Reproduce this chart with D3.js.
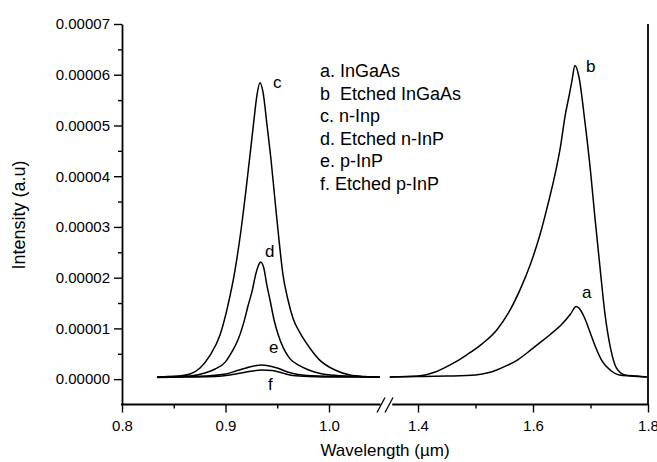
<!DOCTYPE html>
<html>
<head>
<meta charset="utf-8">
<script src="https://cdn.jsdelivr.net/npm/d3@7"></script>
<style>
  html, body { margin: 0; padding: 0; background: #fff; }
  svg { display: block; font-family: "Liberation Sans", Arial, sans-serif; }
</style>
</head>
<body>
<svg id="chart" width="657" height="462"></svg>
<script>
// ---------- data (intensity in units of 1e-5 a.u.) ----------
const UNIT = 1e-5;

// left group (InP region)
const cWavelength = [0.834,0.845,0.855,0.8657,0.8754,0.8850,0.8947,0.9024,0.9092,0.9150,0.9198,0.9237,0.9275,0.9304,0.9333,0.9362,0.9401,0.9440,0.9478,0.9517,0.9556,0.9604,0.9652,0.9720,0.9816,0.9913,1.0058,1.0203,1.035,1.049];
const cIntensity  = [0.04,0.05,0.06,0.10,0.22,0.47,0.87,1.46,2.15,2.94,3.73,4.42,5.11,5.60,5.84,5.66,5.01,4.32,3.53,2.74,2.05,1.56,1.20,0.91,0.61,0.37,0.18,0.08,0.05,0.04];

const dWavelength = [0.834,0.850,0.866,0.880,0.890,0.900,0.906,0.912,0.917,0.922,0.926,0.929,0.932,0.934,0.937,0.940,0.943,0.947,0.951,0.956,0.962,0.972,0.986,1.001,1.049];
const dIntensity  = [0.04,0.05,0.06,0.12,0.20,0.34,0.53,0.77,1.07,1.46,1.76,2.05,2.25,2.31,2.19,1.85,1.56,1.16,0.87,0.61,0.41,0.26,0.14,0.08,0.04];

const eWavelength = [0.834,0.862,0.880,0.900,0.910,0.920,0.930,0.935,0.940,0.950,0.960,0.970,0.990,1.020,1.049];
const eIntensity  = [0.04,0.05,0.06,0.10,0.16,0.22,0.27,0.28,0.27,0.22,0.14,0.09,0.06,0.05,0.04];

const fWavelength = [0.834,0.862,0.890,0.910,0.920,0.935,0.945,0.955,0.965,0.980,1.010,1.049];
const fIntensity  = [0.03,0.04,0.05,0.10,0.14,0.18,0.17,0.12,0.07,0.05,0.04,0.04];

// right group (InGaAs region)
const aWavelength = [1.351,1.400,1.450,1.500,1.520,1.537,1.555,1.572,1.590,1.610,1.630,1.650,1.665,1.675,1.680,1.690,1.700,1.710,1.720,1.735,1.750,1.770,1.798];
const aIntensity  = [0.04,0.05,0.06,0.08,0.12,0.18,0.27,0.37,0.52,0.70,0.88,1.08,1.28,1.43,1.40,1.20,0.90,0.60,0.36,0.17,0.08,0.06,0.04];

const bWavelength = [1.351,1.400,1.430,1.456,1.485,1.513,1.537,1.557,1.577,1.595,1.612,1.625,1.638,1.648,1.656,1.663,1.668,1.673,1.680,1.690,1.700,1.708,1.717,1.725,1.735,1.745,1.760,1.780,1.798];
const bIntensity  = [0.04,0.06,0.14,0.28,0.48,0.71,0.97,1.30,1.75,2.25,2.84,3.40,4.02,4.60,5.20,5.60,5.90,6.18,5.95,5.10,4.10,3.15,2.15,1.30,0.60,0.22,0.08,0.06,0.04];

const legendLines = ["a. InGaAs", "b\u00a0 Etched InGaAs", "c. n-Inp", "d. Etched n-InP", "e. p-InP", "f. Etched p-InP"];

const yMajorTicks = [0, 1e-5, 2e-5, 3e-5, 4e-5, 5e-5, 6e-5, 7e-5];
const yMinorTicks = [0.5e-5, 1.5e-5, 2.5e-5, 3.5e-5, 4.5e-5, 5.5e-5, 6.5e-5];
const xLeftMajor = [0.8, 0.9, 1.0];
const xLeftMinor = [0.85, 0.95];
const xRightMajor = [1.4, 1.6, 1.8];
const xRightMinor = [1.5, 1.7];

// ---------- drawing ----------
(function () {
const svg = d3.select("#chart");
const pTop = 24, pBottom = 404.5, pLeft = 122, pRight = 648;
const breakL = 380.5, breakR = 389.25;

const y = d3.scaleLinear().domain([-0.5e-5, 7e-5]).range([pBottom, pTop]);
const xL = d3.scaleLinear().domain([0.8, 1.05]).range([pLeft, pLeft + 0.25 * 1035]);
const xR = d3.scaleLinear().domain([1.35, 1.8]).range([breakR, pRight]);

const fmtY = d3.format(".5f");

// Y axis
const yAxis = d3.axisLeft(y).tickValues(yMajorTicks).tickFormat(fmtY).tickSize(8).tickSizeOuter(0);
const gy = svg.append("g").attr("transform", `translate(${pLeft},0)`).call(yAxis);
gy.select(".domain").attr("stroke-width", 1.8);
gy.selectAll(".tick line").attr("stroke-width", 1.4);
gy.selectAll(".tick text").attr("font-size", 15).attr("x", -12).attr("fill", "#000");
const yMinor = d3.axisLeft(y).tickValues(yMinorTicks).tickFormat("").tickSize(4).tickSizeOuter(0);
const gym = svg.append("g").attr("transform", `translate(${pLeft},0)`).call(yMinor);
gym.select(".domain").remove();
gym.selectAll(".tick line").attr("stroke-width", 1.4);

// Right frame line
svg.append("line").attr("x1", pRight).attr("x2", pRight).attr("y1", pTop).attr("y2", pBottom)
  .attr("stroke", "#000").attr("stroke-width", 1.8);

// X axes (two segments)
function drawX(scale, major, minor, x0, x1) {
  const ax = d3.axisBottom(scale).tickValues(major).tickFormat(d3.format(".1f")).tickSize(8).tickSizeOuter(0);
  const g = svg.append("g").attr("transform", `translate(0,${pBottom})`).call(ax);
  g.select(".domain").remove();
  g.selectAll(".tick line").attr("stroke-width", 1.4);
  g.selectAll(".tick text").attr("font-size", 15).attr("dy", "1.05em").attr("fill", "#000");
  const axm = d3.axisBottom(scale).tickValues(minor).tickFormat("").tickSize(4).tickSizeOuter(0);
  const gm = svg.append("g").attr("transform", `translate(0,${pBottom})`).call(axm);
  gm.select(".domain").remove();
  gm.selectAll(".tick line").attr("stroke-width", 1.4);
  svg.append("line").attr("x1", x0).attr("x2", x1).attr("y1", pBottom).attr("y2", pBottom)
    .attr("stroke", "#000").attr("stroke-width", 1.8);
}
drawX(xL, xLeftMajor, xLeftMinor, pLeft - 1, breakL);
drawX(xR, xRightMajor, xRightMinor, breakR + 3, pRight + 1);

// break marks
[[377, 385], [385, 393]].forEach(([a, b]) => {
  svg.append("line").attr("x1", a).attr("y1", pBottom + 8).attr("x2", b).attr("y2", pBottom - 7)
    .attr("stroke", "#000").attr("stroke-width", 1.3);
});

// curves
const series = [
  { wl: cWavelength, v: cIntensity, x: xL },
  { wl: dWavelength, v: dIntensity, x: xL },
  { wl: eWavelength, v: eIntensity, x: xL },
  { wl: fWavelength, v: fIntensity, x: xL },
  { wl: aWavelength, v: aIntensity, x: xR },
  { wl: bWavelength, v: bIntensity, x: xR }
];
series.forEach(s => {
  const pts = s.wl.map((w, i) => [w, s.v[i] * UNIT]);
  const line = d3.line().x(d => s.x(d[0])).y(d => y(d[1])).curve(d3.curveMonotoneX);
  svg.append("path").datum(pts).attr("d", line)
    .attr("fill", "none").attr("stroke", "#000").attr("stroke-width", 1.5);
});

// curve labels
const curveLabels = [
  { t: "c", x: 273, y: 88 }, { t: "d", x: 265, y: 257 }, { t: "e", x: 269, y: 353 },
  { t: "f", x: 268, y: 390 }, { t: "b", x: 586, y: 72 }, { t: "a", x: 582, y: 298 }
];
svg.selectAll("text.cl").data(curveLabels).enter().append("text")
  .attr("x", d => d.x).attr("y", d => d.y).attr("font-size", 17).attr("fill", "#000").text(d => d.t);

// legend
svg.selectAll("text.lg").data(legendLines).enter().append("text")
  .attr("x", 320).attr("y", (d, i) => 77 + i * 22.6)
  .attr("font-size", 18).attr("fill", "#000").text(d => d);

// axis titles
svg.append("text").attr("x", 385).attr("y", 456).attr("text-anchor", "middle")
  .attr("font-size", 17).attr("fill", "#000").text("Wavelength (\u00b5m)");
svg.append("text").attr("transform", "translate(25,215) rotate(-90)").attr("text-anchor", "middle")
  .attr("font-size", 18).attr("fill", "#000").text("Intensity (a.u)");
})();
</script>
</body>
</html>
